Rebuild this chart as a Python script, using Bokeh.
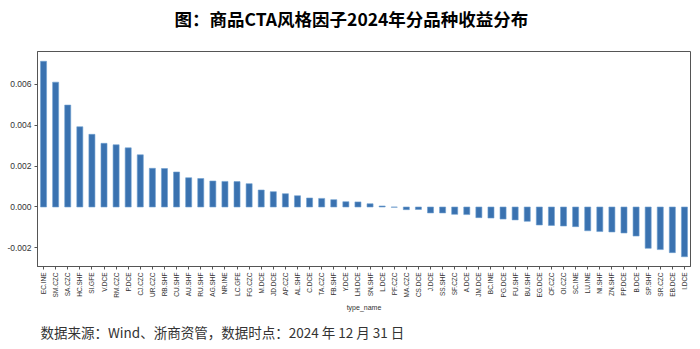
import math
from bokeh.plotting import figure
from bokeh.models import FactorRange, Range1d, FixedTicker, NumeralTickFormatter, Title
from bokeh.embed import file_html
from bokeh.resources import INLINE

# ---- data ----
names = [
    "EC.INE", "SM.CZC", "SA.CZC", "HC.SHF", "SI.GFE", "V.DCE", "RM.CZC", "P.DCE",
    "CJ.CZC", "UR.CZC", "RB.SHF", "CU.SHF", "AU.SHF", "RU.SHF", "AG.SHF", "NR.INE",
    "LC.GFE", "FG.CZC", "M.DCE", "JD.DCE", "AP.CZC", "AL.SHF", "C.DCE", "TA.CZC",
    "FB.SHF", "Y.DCE", "LH.DCE", "SN.SHF", "L.DCE", "PF.CZC", "MA.CZC", "CS.DCE",
    "J.DCE", "SS.SHF", "SF.CZC", "A.DCE", "JM.DCE", "BC.INE", "PG.DCE", "FU.SHF",
    "BU.SHF", "EG.DCE", "CF.CZC", "OI.CZC", "SC.INE", "LU.INE", "NI.SHF", "ZN.SHF",
    "PP.DCE", "B.DCE", "SP.SHF", "SR.CZC", "EB.DCE", "I.DCE",
]
returns = [
    0.00712, 0.00610, 0.00498, 0.00392, 0.00355, 0.00311, 0.00304, 0.00289,
    0.00255, 0.00189, 0.00188, 0.00171, 0.00143, 0.00139, 0.00127, 0.00125,
    0.00124, 0.00114, 0.00083, 0.00075, 0.00065, 0.00055, 0.00044, 0.00042,
    0.00036, 0.00026, 0.00025, 0.00016, 0.00005, -0.00001, -0.00013, -0.00012,
    -0.00029, -0.00029, -0.00036, -0.00037, -0.00052, -0.00054, -0.00059, -0.00063,
    -0.00070, -0.00088, -0.00090, -0.00093, -0.00096, -0.00116, -0.00120, -0.00122,
    -0.00127, -0.00142, -0.00202, -0.00208, -0.00223, -0.00243,
]
y_ticks = [-0.002, 0.0, 0.002, 0.004, 0.006]

title_text = "图：商品CTA风格因子2024年分品种收益分布"
source_text = "数据来源：Wind、浙商资管，数据时点：2024 年 12 月 31 日"
x_label = "type_name"

# ---- figure ----
pad = (max(returns) - min(returns)) * 0.05
p = figure(
    width=700, height=349,
    x_range=FactorRange(factors=names),
    y_range=Range1d(min(returns) - pad, max(returns) + pad),
    output_backend="svg", toolbar_location=None,
    min_border_left=37, min_border_right=10,
    min_border_top=51, min_border_bottom=83,
)
p.background_fill_color = "white"
p.border_fill_color = "white"
p.outline_line_color = "#555555"
p.outline_line_width = 1
p.xgrid.visible = False
p.ygrid.visible = False

p.vbar(x=names, top=returns, width=0.5, fill_color="#3a72b0",
       line_color="#6f9fd0", line_width=0.6)

# y axis
p.yaxis.ticker = FixedTicker(ticks=y_ticks)
p.yaxis.formatter = NumeralTickFormatter(format="0.000")
p.yaxis.major_label_text_font = "Liberation Sans"
p.yaxis.major_label_text_font_size = "8.5px"
p.yaxis.major_label_text_color = "#333333"
p.yaxis.major_label_standoff = 3
p.yaxis.minor_tick_line_color = None

# x axis
p.xaxis.major_label_orientation = math.pi / 2
p.xaxis.major_label_text_font = "Liberation Sans"
p.xaxis.major_label_text_font_size = "6.5px"
p.xaxis.major_label_text_color = "#333333"
p.xaxis.major_label_standoff = 3
p.xaxis.axis_label = x_label
p.xaxis.axis_label_text_font = "Liberation Sans"
p.xaxis.axis_label_text_font_size = "7px"
p.xaxis.axis_label_text_font_style = "normal"
p.xaxis.axis_label_text_color = "#333333"
p.xaxis.axis_label_standoff = 3

for ax in (p.xaxis, p.yaxis):
    ax.axis_line_color = "#555555"
    ax.major_tick_line_color = "#555555"
    ax.major_tick_out = 3
    ax.major_tick_in = 0

# spacer panel next to the frame, then the real title further out
p.title.text = ""
p.add_layout(Title(text=" ", text_font_size="1px", standoff=17), "above")
p.add_layout(Title(text=title_text, text_font="Noto Sans CJK SC",
                   text_font_size="17.5px", text_font_style="bold",
                   align="left", offset=137, vertical_align="bottom",
                   standoff=2, text_color="black"), "above")

p.add_layout(Title(text=source_text, text_font="Noto Sans CJK SC",
                   text_font_size="13.5px", text_font_style="normal",
                   align="left", offset=3, standoff=12,
                   text_color="#333333"), "below")

open("out.html", "w").write(file_html(p, INLINE))
